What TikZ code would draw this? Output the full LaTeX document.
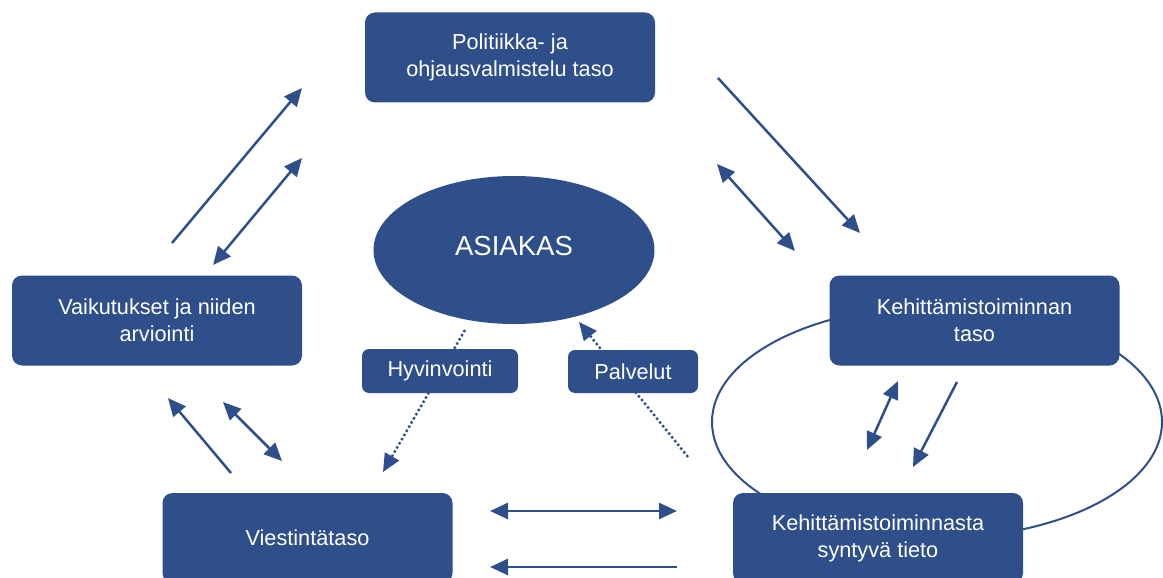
\documentclass[tikz,border=0pt]{standalone}
\usepackage{fontspec}
\setmainfont{Liberation Sans}
\usetikzlibrary{arrows.meta,shapes.geometric}
\definecolor{navy}{RGB}{47,79,138}
\tikzset{
  level/.style={fill=navy, rounded corners=10pt, minimum width=290pt, minimum height=90pt,
    text=white, align=center, inner sep=0pt, font=\fontsize{21.7}{27}\selectfont},
  tag/.style={fill=navy, rounded corners=7pt, text=white, inner sep=0pt,
    font=\fontsize{21.7}{26}\selectfont},
  tip/.tip={Triangle[length=18pt,width=16pt]},
  flow/.style={draw=navy, line width=2.5pt, -tip},
  both/.style={draw=navy, line width=2.5pt, tip-tip},
  dots/.style={draw=navy, line width=2.4pt, dash pattern=on 2.4pt off 2.4pt, -tip}
}
\begin{document}
\begin{tikzpicture}[x=1pt, y=-1pt]
\useasboundingbox (0,0) rectangle (1163,578);
\clip (0,0) rectangle (1163,578);

% development cycle around the two right-hand levels
\node[ellipse, draw=navy, line width=2pt, minimum width=450pt, minimum height=232pt,
  inner sep=0pt] (cycle) at (937,422) {};

% arrow end points
\coordinate (a1s) at (172,243);  \coordinate (a1e) at (302,88);
\coordinate (a2s) at (213,265);  \coordinate (a2e) at (302,158);
\coordinate (a3s) at (718,78);   \coordinate (a3e) at (860,233);
\coordinate (a4s) at (717,164);  \coordinate (a4e) at (795,251);
\coordinate (a5s) at (867,450);  \coordinate (a5e) at (898,381);
\coordinate (a6s) at (957,382);  \coordinate (a6e) at (913,467);
\coordinate (a7s) at (231,473);  \coordinate (a7e) at (168,398);
\coordinate (a8s) at (223,402);  \coordinate (a8e) at (282,461);
\coordinate (a9s) at (490,511);  \coordinate (a9e) at (677,511);
\coordinate (a10s) at (677,567); \coordinate (a10e) at (490,567);
\coordinate (d1s) at (465,330);  \coordinate (d1e) at (383,472);
\coordinate (d2s) at (688,457);  \coordinate (d2e) at (579,322);

% dotted flows pass behind the small labels
\draw[dots] (d1s) -- (d1e);
\draw[dots] (d2s) -- (d2e);

% the client in the middle
\node[ellipse, fill=navy, minimum width=281pt, minimum height=148pt, inner sep=0pt,
  text=white, text depth=8pt, font=\fontsize{27.5}{30}\selectfont] (asiakas) at (514,250) {ASIAKAS};

% levels
\node[level] (politiikka) at (510,57.5) {Politiikka- ja\\ohjausvalmistelu taso};
\node[level] (vaikutukset) at (157,320.5) {Vaikutukset ja niiden\\arviointi};
\node[level] (kehtaso) at (974.5,320.5) {Kehittämistoiminnan\\taso};
\node[level] (viestinta) at (307.5,538) {Viestintätaso};
\node[level] (tieto) at (878,538) {Kehittämistoiminnasta\\syntyvä tieto};

% small labels
\node[tag, minimum width=156pt, minimum height=44pt] (hyvinvointi) at (440,371) {Hyvinvointi};
\node[tag, minimum width=130pt, minimum height=43pt] (palvelut) at (633,371.5) {Palvelut};

% solid flows
\draw[flow] (a1s) -- (a1e);
\draw[both] (a2s) -- (a2e);
\draw[flow] (a3s) -- (a3e);
\draw[both] (a4s) -- (a4e);
\draw[both] (a5s) -- (a5e);
\draw[flow] (a6s) -- (a6e);
\draw[flow] (a7s) -- (a7e);
\draw[both] (a8s) -- (a8e);
\draw[both] (a9s) -- (a9e);
\draw[flow] (a10s) -- (a10e);
\end{tikzpicture}
\end{document}
